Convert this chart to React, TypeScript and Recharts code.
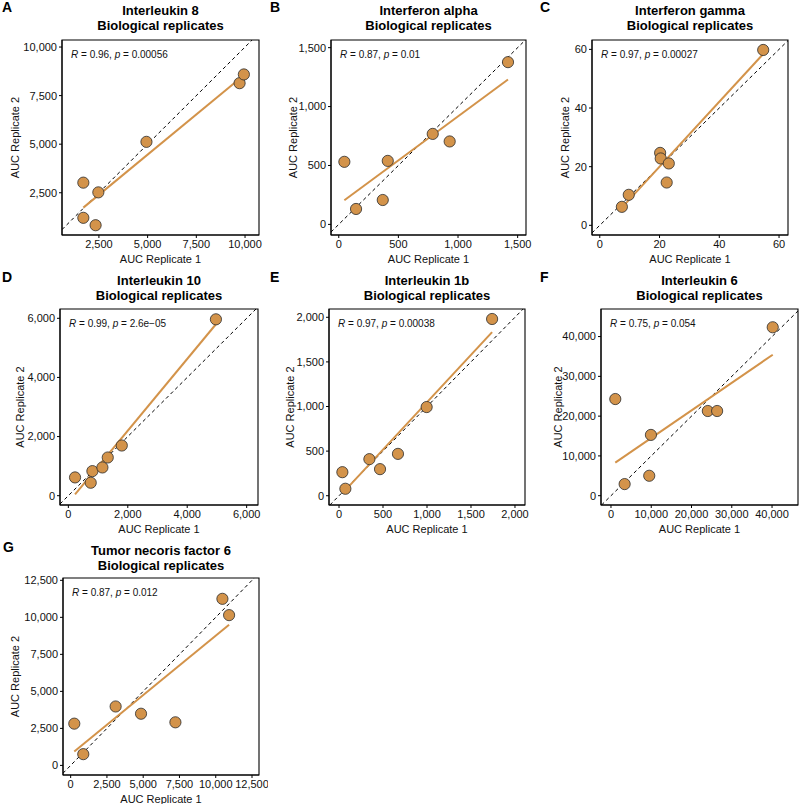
import React from 'react';
import { ScatterChart, Scatter, XAxis, YAxis, ReferenceArea } from 'recharts';

// panel headings
const panelLetters = ['A', 'B', 'C', 'D', 'E', 'F', 'G'];
const panelTitles = [
  'Interleukin 8',
  'Interferon alpha',
  'Interferon gamma',
  'Interleukin 10',
  'Interleukin 1b',
  'Interleukin 6',
  'Tumor necoris factor 6',
];
const subTitle = 'Biological replicates';

// AUC values, replicate 1 (x) and replicate 2 (y)
const il8Rep1 = [1700, 1700, 2330, 2470, 4940, 9720, 9940];
const il8Rep2 = [3020, 1210, 830, 2520, 5120, 8140, 8590];
const ifnaRep1 = [47, 145, 369, 411, 788, 930, 1419];
const ifnaRep2 = [531, 131, 207, 539, 768, 704, 1377];
const ifngRep1 = [7.4, 9.7, 20.2, 20.4, 23.1, 22.4, 54.7];
const ifngRep2 = [6.3, 10.4, 24.7, 22.8, 21.1, 14.6, 59.8];
const il10Rep1 = [225, 753, 809, 1146, 1326, 1798, 4966];
const il10Rep2 = [618, 438, 831, 955, 1292, 1697, 5966];
const il1bRep1 = [38, 72, 345, 466, 670, 996, 1740];
const il1bRep2 = [264, 78, 410, 298, 469, 994, 1981];
const il6Rep1 = [1070, 3390, 9500, 9920, 24050, 26360, 40170];
const il6Rep2 = [24300, 2920, 5010, 15280, 21290, 21290, 42340];
const tnfRep1 = [250, 870, 3100, 4850, 7220, 10460, 10920];
const tnfRep2 = [2820, 760, 3980, 3490, 2910, 11250, 10150];

const rep1 = [il8Rep1, ifnaRep1, ifngRep1, il10Rep1, il1bRep1, il6Rep1, tnfRep1];
const rep2 = [il8Rep2, ifnaRep2, ifngRep2, il10Rep2, il1bRep2, il6Rep2, tnfRep2];

// correlation labels
const corrR = ['0.96', '0.87', '0.97', '0.99', '0.97', '0.75', '0.87'];
const corrP = ['0.00056', '0.01', '0.00027', '2.6e\u221205', '0.00038', '0.054', '0.012'];

// tick labels
const ticksIl8 = [2500, 5000, 7500, 10000];
const ticksIfna = [0, 500, 1000, 1500];
const ticksIfng = [0, 20, 40, 60];
const ticksIl10 = [0, 2000, 4000, 6000];
const ticksIl1b = [0, 500, 1000, 1500, 2000];
const ticksIl6 = [0, 10000, 20000, 30000, 40000];
const ticksTnf = [0, 2500, 5000, 7500, 10000, 12500];
const panelTicks = [ticksIl8, ticksIfna, ticksIfng, ticksIl10, ticksIl1b, ticksIl6, ticksTnf];

// axis ranges (x, y)
const xDomains = [[605, 10717], [-65, 1570], [-2.6, 63], [-281, 6382], [-114, 2114], [-2479, 46446], [-528, 12982]];
const yDomains = [[326, 10362], [-90, 1565], [-3.3, 63.2], [-315, 6315], [-104, 2093], [-2338, 46931], [-648, 12657]];

// layout: sub-figure origin, plot box, y title x, letter x
const layouts = [
  { col: 0, row: 0, l: 62, r: 259, t: 40, b: 235, yLab: 15, lx: 2 },
  { col: 265, row: 0, l: 331, r: 526, t: 40, b: 235, yLab: 293, lx: 270 },
  { col: 530, row: 0, l: 592, r: 788, t: 40, b: 235, yLab: 565, lx: 540 },
  { col: 0, row: 270, l: 60, r: 258, t: 309, b: 505, yLab: 20, lx: 2 },
  { col: 265, row: 270, l: 329, r: 525, t: 309, b: 505, yLab: 290, lx: 270 },
  { col: 530, row: 270, l: 601, r: 798, t: 309, b: 505, yLab: 558, lx: 540 },
  { col: 0, row: 540, l: 63, r: 259, t: 578, b: 775, yLab: 15, lx: 3 },
];

const FONT = '"Liberation Sans", Arial, Helvetica, sans-serif';
const ORANGE = '#D3934A';
const fmt = (v: number) => v.toLocaleString('en-US');

const Dot = (props: any) => (
  <circle cx={props.cx} cy={props.cy} r={5.6} fill={ORANGE} stroke="#2b2b2b" strokeWidth={0.8} />
);
const NoDot = () => <g />;

function Panel({ i }: { i: number }) {
  const L = layouts[i];
  const cw = L.r + 9 - L.col;
  const ch = L.b + 30 - L.row;
  const xd = xDomains[i];
  const yd = yDomains[i];
  const pts = rep1[i].map((x, k) => ({ x, y: rep2[i][k] }));
  const lo = Math.max(xd[0], yd[0]);
  const hi = Math.min(xd[1], yd[1]);
  const diag = [{ x: lo, y: lo }, { x: hi, y: hi }];

  return (
    <div style={{ position: 'absolute', left: L.col, top: L.row, width: cw, height: ch }}>
      <ScatterChart width={cw} height={ch} margin={{ top: L.t - L.row, right: 9, bottom: 0, left: 0 }}>
        <XAxis
          type="number"
          dataKey="x"
          domain={xd}
          allowDataOverflow
          ticks={panelTicks[i]}
          tickFormatter={fmt}
          tickSize={3}
          tickMargin={2}
          height={30}
          stroke="#000"
          tick={{ fill: '#111', fontSize: 11, fontFamily: FONT }}
          label={{ value: 'AUC Replicate 1', position: 'insideBottom', offset: 2, fill: '#111', fontSize: 11, fontFamily: FONT }}
        />
        <YAxis
          type="number"
          dataKey="y"
          domain={yd}
          allowDataOverflow
          ticks={panelTicks[i]}
          tickFormatter={fmt}
          tickSize={3}
          tickMargin={2}
          width={L.l - L.col}
          stroke="#000"
          tick={{ fill: '#111', fontSize: 11, fontFamily: FONT }}
          label={{
            value: 'AUC Replicate 2',
            angle: -90,
            position: 'insideLeft',
            offset: L.yLab - L.col,
            fill: '#111',
            fontSize: 11,
            fontFamily: FONT,
            style: { textAnchor: 'middle' },
          }}
        />
        <ReferenceArea x1={xd[0]} x2={xd[1]} y1={yd[0]} y2={yd[1]} fill="none" stroke="#000" strokeWidth={1.1} />
        <Scatter
          data={diag}
          line={{ stroke: '#000', strokeWidth: 1, strokeDasharray: '3.5 3' }}
          shape={NoDot}
          isAnimationActive={false}
        />
        <Scatter
          data={pts}
          line={{ stroke: ORANGE, strokeWidth: 2 }}
          lineType="fitting"
          shape={Dot}
          isAnimationActive={false}
        />
      </ScatterChart>
    </div>
  );
}

export default function App() {
  return (
    <div
      style={{
        position: 'absolute',
        left: 0,
        top: 0,
        width: 800,
        height: 804,
        overflow: 'hidden',
        background: '#fff',
        fontFamily: FONT,
        color: '#000',
      }}
    >
      {layouts.map((L, i) => (
        <Panel key={i} i={i} />
      ))}
      {layouts.map((L, i) => {
        const cx = (L.l + L.r) / 2;
        return (
          <React.Fragment key={'t' + i}>
            <div style={{ position: 'absolute', left: L.lx, top: L.row - 1, fontSize: 14, fontWeight: 700, lineHeight: '16px' }}>
              {panelLetters[i]}
            </div>
            <div
              style={{
                position: 'absolute',
                left: cx - 110,
                width: 220,
                top: L.row + 4,
                textAlign: 'center',
                fontSize: 13,
                fontWeight: 700,
                lineHeight: '14.5px',
              }}
            >
              <div>{panelTitles[i]}</div>
              <div>{subTitle}</div>
            </div>
            <div
              style={{
                position: 'absolute',
                left: L.l + 9,
                top: L.t + 9,
                fontSize: 10,
                lineHeight: '12px',
                whiteSpace: 'nowrap',
                color: '#111',
              }}
            >
              <i>R</i> = {corrR[i]}, <i>p</i> = {corrP[i]}
            </div>
          </React.Fragment>
        );
      })}
    </div>
  );
}
